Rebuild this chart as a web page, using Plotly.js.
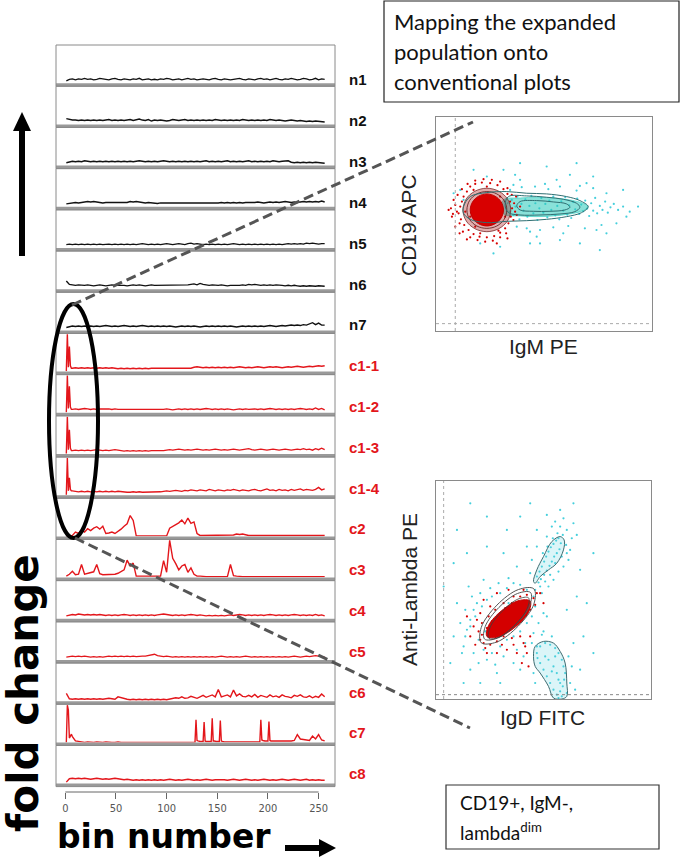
<!DOCTYPE html>
<html><head><meta charset="utf-8">
<script src="https://cdn.plot.ly/plotly-3.0.1.min.js"></script>
<style>html,body{margin:0;padding:0;background:#fff}#chart{width:681px;height:865px}</style>
</head><body><div id="chart"></div>
<script>
// ---------- DATA ----------
const bins = [1,4,7,10,13,16,19,22,25,28,31,34,37,40,43,46,49,52,55,58,61,64,67,70,73,76,79,82,85,88,
  91,94,97,100,103,106,109,112,115,118,121,124,127,130,133,136,139,142,145,148,151,154,157,160,163,166,169,172,175,178,
  181,184,187,190,193,196,199,202,205,208,211,214,217,220,223,226,229,232,235,238,241,244,247,250,253,256];
const binsHead = [1,2,3,4,5,6];
const c7Bins = [1,2,3,4,5,6,7,10,13,16,19,22,25,28,31,34,37,40,43,46,49,52,55,58,61,64,67,70,73,76,79,82,85,88,91,94,97,100,103,106,109,112,115,118,121,124,
  125,126,127,128,129,130,131,132,133,134,135,136,137,138,139,140,141,142,143,144,145,146,147,148,149,150,151,152,153,154,
  155,156,157,158,159,160,161,162,163,164,165,166,167,168,169,170,171,172,173,174,175,176,177,178,179,180,181,182,183,184,
  185,186,187,188,189,190,191,192,193,194,195,196,197,198,199,200,201,202,203,204,205,
  208,211,214,217,220,223,226,229,232,235,238,241,244,247,250,253,256];
const panelNames = ["n1","n2","n3","n4","n5","n6","n7","c1-1","c1-2","c1-3","c1-4","c2","c3","c4","c5","c6","c7","c8"];
const tickVals = [0,50,100,150,200,250];

const n1 = [0.8,1.1,1.2,1.0,1.2,1.1,1.3,1.1,1.2,1.0, 1.1,1.3,1.2,1.1,1.0,1.2,1.3,1.1,1.0,1.2, 1.1,1.0,1.2,1.1,1.3,1.0,1.1,1.2,1.0,1.1,
  1.0,1.2,1.1,1.3,1.2,1.0,1.1,1.2,1.0,1.1, 1.3,1.1,1.2,1.0,1.1,1.2,1.1,1.0,1.2,1.3, 1.1,1.0,1.2,1.1,1.0,1.1,1.2,1.3,1.1,1.0,
  1.2,1.1,1.0,1.2,1.3,1.1,1.2,1.0,1.1,1.3, 1.1,1.0,1.2,1.1,1.3,1.2,1.0,1.1,1.3,1.2, 1.0,1.1,1.3,1.0,1.2,1.1];
const n2 = [1.5,1.3,1.2,1.2,1.1,1.2,1.1,1.2,1.1,1.2, 1.1,1.2,1.1,1.2,1.3,1.1,1.2,1.1,1.2,1.1, 1.2,1.3,1.1,1.2,1.4,1.2,1.1,1.3,1.0,1.2,
  1.1,1.2,1.1,1.0,1.1,1.3,1.2,1.1,1.2,1.3, 1.1,1.2,1.1,1.2,1.1,1.2,1.1,1.2,1.1,1.3, 1.2,1.1,1.2,1.1,1.2,1.1,1.2,1.1,1.3,1.2,
  1.1,1.2,1.1,1.2,1.1,1.2,1.1,1.3,1.2,1.1, 1.2,1.1,1.0,1.1,1.2,1.1,1.0,1.1,1.0,0.9, 1.0,0.9,1.0,0.9,0.9,0.8];
const n3 = [0.9,1.1,1.2,1.1,1.2,1.1,1.3,1.2,1.1,1.2, 1.1,1.2,1.1,1.2,1.1,1.2,1.1,1.2,1.1,1.2, 1.1,1.2,1.1,1.2,1.3,1.2,1.1,1.2,1.1,1.2,
  1.1,1.2,1.3,1.2,1.1,1.2,1.1,1.2,1.1,1.2, 1.1,1.2,1.1,1.2,1.1,1.2,1.3,1.1,1.2,1.1, 1.2,1.1,1.2,1.3,1.1,1.2,1.1,1.2,1.1,1.2,
  1.3,1.1,1.2,1.1,1.2,1.1,1.2,1.1,1.3,1.2, 1.1,1.2,1.2,1.3,1.0,0.9,1.0,0.9,1.0,0.9, 1.0,0.9,1.0,0.9,0.9,0.8];
const n4 = [0.9,1.0,1.1,1.2,1.1,1.2,1.3,1.4,1.3,1.4, 1.3,1.2,1.1,1.2,1.2,1.1,1.2,1.1,1.2,1.1, 1.2,1.4,1.3,1.4,1.3,1.2,1.1,1.2,1.1,1.1,
  1.0,1.1,1.1,1.0,1.1,1.0,1.1,1.1,1.0,1.1, 1.0,1.1,1.0,1.1,1.0,1.1,1.1,1.0,1.1,1.0, 1.1,1.2,1.1,1.2,1.1,1.2,1.1,1.2,1.1,1.2,
  1.2,1.1,1.2,1.3,1.2,1.1,1.2,1.3,1.2,1.3, 1.2,1.3,1.4,1.3,1.2,1.3,1.2,1.3,1.4,1.3, 1.4,1.3,1.4,1.3,1.5,1.3];
const n5 = [1.0,1.1,1.0,1.1,1.0,1.1,1.0,1.1,1.0,1.1, 1.0,1.1,1.0,1.1,1.1,1.0,1.1,1.0,1.1,1.0, 1.1,1.0,1.1,1.0,1.1,1.2,1.1,1.0,1.1,1.0,
  1.1,1.0,1.1,1.2,1.1,1.0,1.1,1.2,1.1,1.0, 1.2,1.3,1.1,1.2,1.1,1.0,1.1,1.0,1.1,1.0, 1.1,1.0,1.1,1.0,1.1,1.2,1.1,1.0,1.1,1.0,
  1.1,1.0,1.1,1.0,1.1,1.0,1.1,1.0,1.1,1.0, 1.1,1.0,1.1,1.2,1.1,1.2,1.1,1.2,1.1,1.3, 1.2,1.3,1.2,1.1,1.2,1.2];
const n6 = [2.0,1.3,1.2,1.1,1.2,1.1,1.1,1.2,1.1,1.0, 1.1,1.2,1.1,1.0,1.1,1.2,1.1,1.1,1.2,1.1, 1.0,1.1,1.2,1.1,1.2,1.1,1.0,1.1,1.2,1.1,
  1.1,1.2,1.1,1.2,1.1,1.2,1.1,1.2,1.1,1.2, 1.2,1.3,1.4,1.2,1.5,1.3,1.2,1.1,1.2,1.1, 1.1,1.2,1.1,1.0,1.1,1.1,1.0,1.1,1.2,1.1,
  1.3,1.2,1.3,1.2,1.1,1.2,1.1,1.2,1.1,1.2, 1.2,1.1,1.0,1.1,1.0,1.1,1.0,0.9,1.0,0.9, 1.0,0.9,0.9,1.0,0.9,0.9];
const n7 = [0.9,1.1,1.2,1.1,1.2,1.1,1.2,1.1,1.2,1.1, 1.2,1.1,1.2,1.3,1.2,1.1,1.2,1.1,1.2,1.3, 1.2,1.1,1.2,1.1,1.2,1.3,1.2,1.1,1.2,1.1,
  1.2,1.1,1.2,1.1,1.2,1.1,1.0,1.1,1.2,1.1, 1.2,1.1,1.2,1.1,1.0,1.1,1.2,1.1,1.2,1.1, 1.2,1.1,1.2,1.1,1.2,1.1,1.0,1.1,1.2,1.1,
  1.2,1.1,1.2,1.1,1.2,1.1,1.2,1.3,1.2,1.1, 1.2,1.3,1.2,1.3,1.4,1.3,1.4,1.3,1.5,1.4, 1.6,1.9,1.5,1.8,1.4,1.4];

const c1_1Head = [0.4,8.0,1.2,5.5,1.5,1.0];
const c1_1Tail = [1.0,1.1,1.0,1.1,1.0,1.1,1.0,1.1,1.0,1.1, 1.0,1.1,1.0,1.1,1.0,0.9,1.0,0.9,1.0,0.9, 1.0,0.9,1.0,0.9,1.0,0.9,1.0,1.0,0.9,1.0,
  0.9,1.0,1.0,0.9,1.0,0.9,1.0,1.0,0.9,1.0, 1.2,1.3,1.2,1.1,1.2,1.1,1.2,1.1,1.2,1.1, 1.2,1.1,1.2,1.1,1.2,1.3,1.2,1.1,1.2,1.1,
  1.2,1.3,1.2,1.1,1.2,1.3,1.2,1.3,1.2,1.1, 1.2,1.3,1.2,1.3,1.4,1.3,1.2,1.3,1.4,1.3, 1.4,1.5,1.4,1.5];
const c1_2Head = [0.4,8.0,1.2,5.8,1.5,1.0];
const c1_2Tail = [1.0,1.1,1.0,1.1,1.2,1.1,1.0,1.1,1.0,1.1, 1.1,1.2,1.1,1.0,1.1,1.0,1.0,0.9,1.0,0.9, 1.0,0.9,1.0,1.0,0.9,1.0,0.9,1.0,1.0,0.9,
  1.0,1.1,1.0,0.9,1.0,1.1,1.0,1.1,1.0,1.1, 1.0,1.1,1.0,1.1,1.2,1.1,1.0,1.1,1.0,1.1, 1.0,1.1,1.0,0.9,1.0,1.1,1.0,1.1,1.0,1.1,
  1.1,1.0,1.1,1.0,1.1,1.2,1.1,1.0,1.1,1.0, 1.1,1.0,1.1,1.0,1.1,1.2,1.1,1.0,1.1,1.0, 1.3,1.0,1.2,0.9];
const c1_3Head = [0.4,8.0,1.2,5.3,1.5,1.0];
const c1_3Tail = [1.0,1.1,1.0,1.1,1.0,1.1,1.0,1.1,1.2,1.1, 1.0,1.1,1.0,1.1,1.2,1.1,1.0,0.9,1.0,0.9, 1.0,0.9,1.0,0.9,1.0,0.9,1.0,1.0,0.9,1.0,
  1.0,1.1,1.2,1.1,1.2,1.3,1.2,1.1,1.2,1.1, 1.2,1.3,1.2,1.1,1.2,1.1,1.2,1.3,1.2,1.1, 1.2,1.1,1.2,1.3,1.2,1.1,1.2,1.3,1.4,1.2,
  1.1,1.2,1.3,1.2,1.1,1.2,1.3,1.2,1.1,1.2, 1.3,1.2,1.1,1.2,1.3,1.2,1.4,1.2,1.3,1.1, 1.4,1.2,1.5,1.2];
const c1_4Head = [0.4,8.0,1.2,3.9,1.5,1.2];
const c1_4Tail = [1.2,1.1,1.0,1.1,1.0,1.1,1.0,1.1,1.0,1.1, 1.0,1.1,1.0,1.1,1.0,1.1,1.0,0.9,0.9,0.9, 1.0,0.9,1.0,0.9,0.9,1.0,0.9,1.0,0.9,1.0,
  1.1,1.2,1.1,1.2,1.3,1.2,1.1,1.3,1.2,1.4, 1.3,1.2,1.4,1.3,1.2,1.5,1.3,1.2,1.4,1.3, 1.2,1.4,1.3,1.5,1.3,1.2,1.4,1.3,1.2,1.4,
  1.5,1.3,1.2,1.4,1.6,1.3,1.4,1.2,1.5,1.3, 1.4,1.2,1.5,1.3,1.4,1.6,1.3,1.5,1.4,1.3, 1.5,1.9,1.4,1.6];

const c2 = [0.3,0.3,0.5,1.2,0.9,1.6,1.2,1.9,1.5,2.0, 2.3,1.8,2.4,0.9,1.0,1.2,0.9,1.3,1.8,2.4, 2.9,4.6,3.6,0.4,0.4,0.4,0.4,0.4,0.4,0.4,
  0.4,0.4,0.4,0.4,2.0,2.4,2.8,3.1,3.7,2.9, 4.1,3.0,3.3,0.9,0.5,0.5,0.5,0.5,0.5,0.5, 0.5,0.5,0.5,0.5,0.5,0.6,0.8,0.7,0.8,0.6,
  0.5,0.5,0.5,0.5,0.5,0.5,0.5,0.5,0.5,0.5, 0.5,0.5,0.5,0.5,0.5,0.5,0.5,0.5,0.5,0.5, 0.5,0.5,0.5,0.5,0.5,0.5];
const c3 = [0.6,1.0,1.6,0.9,1.0,3.0,1.0,1.2,1.3,1.5, 3.0,1.1,0.9,0.9,1.0,0.9,1.0,1.2,1.5,1.9, 3.9,2.7,3.3,0.6,0.6,0.6,0.6,0.6,0.6,0.6,
  0.6,0.6,3.8,1.4,8.0,4.3,3.2,1.9,2.7,3.0, 1.4,2.3,1.0,0.6,0.6,0.5,0.5,0.5,0.5,0.5, 0.5,0.5,0.5,0.5,3.0,0.7,0.6,0.5,0.5,0.5,
  0.5,0.5,0.5,0.5,0.5,0.5,0.5,0.5,0.5,0.5, 0.5,0.5,0.5,0.5,0.5,0.5,0.5,0.5,0.5,0.5, 0.5,0.5,0.5,0.5,0.5,0.5];
const c4 = [0.9,1.1,1.2,1.1,1.3,1.2,1.1,1.2,1.1,1.2, 1.1,1.2,1.1,1.0,1.1,1.0,1.1,1.0,1.1,1.2, 1.1,1.0,1.1,1.0,1.1,1.0,1.1,1.0,1.1,1.0,
  1.1,1.2,1.3,1.2,1.1,1.0,1.1,1.0,1.1,1.0, 1.1,1.2,1.1,1.0,1.1,1.0,0.9,1.0,0.9,1.0, 0.9,1.0,0.9,1.0,1.1,1.0,1.1,1.2,1.1,1.0,
  1.1,1.0,1.1,1.0,1.1,1.0,1.1,1.2,1.1,1.0, 1.1,1.0,1.1,1.0,1.1,1.2,1.1,1.0,1.1,1.0, 1.1,1.0,1.2,1.0,1.1,0.9];
const c5 = [0.9,1.0,1.1,1.0,1.1,1.0,1.1,1.0,0.9,1.0, 0.9,1.0,0.9,1.0,1.1,1.0,1.1,1.0,1.1,1.0, 1.1,1.0,1.1,1.0,1.1,1.1,1.1,1.2,1.3,1.5,
  1.2,1.1,1.0,1.1,1.0,0.9,1.0,0.9,1.0,0.9, 1.0,0.9,1.0,0.9,1.0,0.9,1.0,0.9,1.0,0.9, 1.0,1.1,1.0,0.9,1.0,0.9,1.0,0.9,1.0,1.1,
  1.0,0.9,1.0,0.9,1.0,0.9,1.0,0.9,1.0,0.9, 1.0,0.9,1.0,0.9,1.0,1.1,1.0,0.9,1.0,1.1, 1.0,1.1,1.2,1.1,1.0,0.9];
const c6 = [1.9,0.8,0.7,0.8,0.7,0.8,0.7,0.8,0.7,0.8, 0.7,0.8,0.7,0.8,0.9,0.8,0.7,1.2,1.0,0.9, 0.7,0.6,0.7,0.6,0.7,0.6,0.7,0.6,0.7,0.6,
  0.7,0.6,0.7,0.6,0.7,0.8,1.0,0.9,1.2,0.9, 1.0,1.3,1.1,0.9,1.2,1.5,1.1,1.3,1.6,1.2, 2.7,1.2,1.4,1.6,1.2,2.6,1.4,1.8,1.3,1.2,
  1.5,1.2,1.7,1.1,1.5,1.3,1.1,1.6,1.2,1.4, 1.1,1.6,1.3,1.2,1.0,1.5,1.3,1.6,1.2,1.1, 1.4,1.0,1.3,1.1,1.8,1.2];
const c7 = [0.3,8.0,7.0,1.2,1.6,2.0,
  1.5,0.6,0.5,0.4,0.3,0.4,0.3,0.3,0.4,0.3, 0.3,0.4,0.3,0.3,0.3,0.4,0.3,0.3,0.3,0.3, 0.3,0.3,0.4,0.3,0.3,0.3,0.3,0.3,0.3,0.3,
  0.3,0.3,0.3,0.3,0.3,0.3,0.3,0.3,0.3,0.3,
  0.3,0.3,0.3,0.3,5.0,0.7,0.6,0.5,0.5,0.5,0.5,0.5,4.5,0.6,0.5,0.5,0.5,0.5,0.5,0.5,5.3,0.6,0.6,0.5,0.5,0.5,0.5,0.5,4.8,0.6,
  0.5,0.4,0.4,0.4,0.4,0.4,0.4,0.4,0.4,0.4,0.4,0.4,0.4,0.4,0.4,0.4,0.4,0.4,0.4,0.4,0.4,0.4,0.4,0.4,0.4,0.4,0.4,0.4,0.4,0.4,
  0.4,0.4,0.4,0.4,0.4,0.4,0.4,0.4,5.0,0.8,0.7,0.6,0.6,0.6,0.6,0.6,4.6,0.7,0.6,0.6,0.6,
  0.5,0.6,0.5,0.6,0.5,0.6,0.7,1.9,1.0,0.9,0.7,0.7,1.6,1.0,1.9,0.8,0.6];
const c8 = [0.6,1.3,1.4,1.3,1.4,1.3,1.4,1.3,1.2,1.3, 1.4,1.3,1.2,1.3,1.2,1.3,1.4,1.3,1.2,1.1, 1.2,1.1,1.0,1.1,1.0,1.1,1.0,1.1,1.0,1.1,
  1.0,1.1,1.0,1.1,1.2,1.1,1.0,1.1,1.0,1.1, 1.2,1.1,1.0,1.1,1.0,1.1,1.2,1.1,1.0,1.1, 1.1,1.2,1.1,1.0,1.1,1.2,1.1,1.0,1.1,1.2,
  1.1,1.0,1.1,1.0,1.1,1.2,1.1,1.0,1.1,1.0, 1.1,1.2,1.1,1.0,1.1,1.2,1.1,1.0,1.1,1.2, 1.0,1.1,1.0,1.1,1.0,1.0];

// Flow plot 1: CD19 APC vs IgM PE  (x, y channel pairs)
const igmCyan = [[262,420],[268,395],[275,430],[280,385],[286,410],[292,440],[298,372],[304,418],[310,398],[316,432],[322,380],[328,412],[334,442],[340,390],[346,420],[352,370],[358,405],[364,436],[370,392],[376,418],[382,378],[388,428],[394,400],[400,440],[406,384],[412,412],[418,372],[424,426],[430,398],[436,438],[442,386],[448,414],[454,376],[460,424],[466,402],[472,434],[478,388],[484,416],[490,396],[496,428],[502,404],[508,382],[514,420],[520,398],[526,436],[532,390],[540,412],[548,400],[556,425],[564,392],[572,408],[582,418],[595,400],[610,410],[630,395],
  [270,460],[290,350],[305,468],[320,345],[345,470],[360,340],[385,462],[400,348],[420,470],[445,352],[470,458],[495,345],[520,465],[545,355],[280,475],[330,335],[375,478],[430,330],[480,472],[530,340],[560,450],[500,480],[410,490],[350,320],[300,490],
  [655,410],[610,460],[590,360],[250,520],[300,540],[420,310],[480,300],[330,300],[200,500],[160,520],[130,430],[120,460],[240,290],[380,530],[560,330],[620,380],[520,500],[450,505],[285,505],[360,300],[220,270],[180,300],[100,450],[540,280],[470,540]];
const igmCyanCore = [[250,430],[300,436],[350,438],[400,436],[450,430],[490,420],[505,410],[490,398],[450,388],[400,382],[350,380],[300,382],[250,388],[250,430]];
const igmRed = [[120,410],[110,395],[98,388],[130,440],[140,455],[150,470],[165,478],[185,482],[210,480],[232,474],[250,462],[262,448],[270,425],[276,405],[272,380],[265,360],[255,345],[240,332],[222,322],[200,318],[178,320],[160,328],[145,340],[132,355],[122,372],[115,390],[105,415],[125,425],[118,360],[128,335],[150,318],[172,310],[195,305],[218,308],[240,318],[258,330],[280,370],[285,395],[282,420],[275,445],[262,465],[240,485],[215,490],[190,492],[165,488],[142,478],[125,462],[112,445],[100,430],[92,405],[95,380],[105,350],[118,330],[140,312],[230,300],[262,315],[290,385],[288,440],[200,470],[180,330],[165,350],[150,380],[240,440],[255,380],[235,338],[160,460],[135,395],[300,410],[85,400],[245,410]];
const igmRedCore = [[250,400],[243,424],[225,441],[200,448],[175,441],[157,424],[150,400],[157,376],[175,359],[200,352],[225,359],[243,376],[250,400]];
const igmRedRing1 = [[260,400],[252,428],[230,448],[200,455],[170,448],[148,428],[140,400],[148,372],[170,352],[200,345],[230,352],[252,372],[260,400]];
const igmRedRing2 = [[272,400],[262,433],[236,456],[200,465],[164,456],[138,433],[128,400],[138,367],[164,344],[200,335],[236,344],[262,367],[272,400]];
const igmContOuter = [[130,410],[150,440],[200,452],[260,455],[320,450],[380,448],[440,440],[480,428],[505,410],[485,392],[440,380],[380,372],[320,368],[260,366],[200,362],[150,372],[130,390],[130,410]];
const igmContMid = [[265,440],[320,442],[380,438],[430,432],[470,420],[480,408],[465,395],[420,388],[360,385],[300,385],[265,392],[255,415],[265,440]];
const igmContInner = [[300,425],[350,428],[400,424],[440,418],[450,408],[435,400],[390,396],[340,396],[300,400],[290,412],[300,425]];

// Flow plot 2: Anti-Lambda PE vs IgD FITC
const igdCyan = [[350,380],[358,395],[365,410],[372,425],[378,440],[385,455],[392,468],[400,478],[408,488],[415,495],[422,480],[418,462],[410,450],[402,440],[395,425],[388,412],[380,398],[372,385],[362,372],[355,362],[368,450],[382,470],[398,495],[412,510],[428,505],[438,475],[440,450],[425,440],[405,420],[390,385],[375,365],[360,350],[345,340],[395,530],[420,530],[440,520],[455,495],[450,460],[445,430],[430,410],[415,395],[400,370],[385,350],[365,330],[350,470],[335,430],[380,500],[405,545],[430,555],[460,540],[470,505],[350,520],[320,470],[330,390],[420,580],[380,565],
  [170,300],[180,330],[150,250],[160,280],[140,220],[175,190],[190,160],[215,150],[240,170],[260,190],[280,200],[300,215],[320,240],[335,260],[345,290],[340,320],[320,340],[300,355],[280,360],[260,345],[240,330],[215,320],[200,310],[185,290],[165,260],[150,230],[135,200],[130,170],[160,150],[200,130],[250,140],[290,160],[315,180],[340,210],[355,240],[210,345],[235,360],[265,375],[155,320],[135,280],[120,240],[125,150],[175,120],[225,115],[280,120],[310,140],[350,170],[365,205],[370,270],[190,370],[145,350],[110,300],[100,200],[150,100],[230,90],[300,100],[265,300],[300,290],[225,230],[195,215],[250,215],[310,265],
  [350,150],[360,170],[375,180],[390,175],[405,165],[415,150],[425,130],[430,110],[435,90],[432,70],[428,50],[420,35],[410,25],[400,40],[390,60],[380,80],[370,100],[360,120],[352,135],[385,130],[400,110],[410,90],[415,70],[395,95],[375,140],[405,140],[420,60],[425,20],[415,15],[440,30],[445,140],[455,110],[450,60],[340,90],[335,180],[395,200],[370,215],[345,60],[460,180],[465,40],
  [100,420],[140,450],[200,470],[260,520],[300,560],[330,600],[460,600],[480,400],[500,300],[490,200],[480,100],[520,150],[90,120],[70,350],[110,520],[250,450],[290,410],[200,560],[150,600],[520,450],[380,260],[440,280],[470,320],[240,60],[180,60],[130,60]];
const igdRed = [[190,180],[185,205],[200,225],[215,245],[235,265],[255,285],[275,300],[300,320],[320,325],[340,315],[345,295],[330,280],[310,260],[290,240],[270,220],[250,200],[230,185],[210,175],[195,165],[180,190],[175,215],[205,260],[225,280],[250,300],[280,320],[320,300],[300,280],[260,240],[240,225],[220,210],[350,330],[185,240],[210,290],[310,340],[245,175],[275,195],
  [300,200],[310,180],[320,150],[305,120],[325,110],[315,170],[290,150],[330,200],[280,175],[180,270],[170,250],[160,230],[190,310],[150,200],[165,175],[200,150],[230,150],[260,160],[140,260],[370,300],[360,330],[230,330],[265,340]];
const igdRedCore = [[330,306],[297,308],[245,278],[205,233],[200,200],[233,198],[285,228],[325,273],[330,306]];
const igdContA = [[341,343],[295,341],[230,294],[183,227],[183,181],[229,183],[294,231],[341,297],[341,343]];
const igdContB = [[331,332],[292,329],[236,287],[195,230],[193,192],[232,195],[288,237],[329,294],[331,332]];
const igdContC = [[325,316],[293,312],[245,275],[209,226],[206,194],[237,198],[285,235],[321,284],[325,316]];
const igdContUpper = [[340,365],[350,400],[370,440],[395,485],[420,500],[432,490],[430,460],[410,420],[385,400],[360,380],[345,360],[340,365]];
const igdContLower = [[340,140],[345,170],[370,185],[400,180],[420,155],[435,120],[440,60],[440,20],[425,12],[400,15],[385,50],[360,90],[345,110],[340,140]];

// ---------- BUILD ----------
const W = 681, H = 865;
const px = x => x / W, py = y => 1 - y / H;
const binsSpike = binsHead.concat(bins.slice(2));
const series = [
  [bins,n1],[bins,n2],[bins,n3],[bins,n4],[bins,n5],[bins,n6],[bins,n7],
  [binsSpike,c1_1Head.concat(c1_1Tail)],[binsSpike,c1_2Head.concat(c1_2Tail)],
  [binsSpike,c1_3Head.concat(c1_3Tail)],[binsSpike,c1_4Head.concat(c1_4Tail)],
  [bins,c2],[bins,c3],[bins,c4],[bins,c5],[bins,c6],[c7Bins,c7],[bins,c8]
];
const RED = '#e3161b', BLK = '#111111';
const traces = [], shapes = [], annotations = [];
const layout = {
  width: W, height: H, margin: {l:0, r:0, t:0, b:0}, showlegend: false,
  paper_bgcolor: '#ffffff', plot_bgcolor: 'rgba(0,0,0,0)',
  xaxis: {domain: [px(56), px(335)], range: [-9.2, 266.2], anchor: 'free', position: py(792),
    showline: false, showgrid: false, zeroline: false, ticks: 'outside', ticklen: 6, tickwidth: 1, tickcolor: '#666',
    tickvals: tickVals, ticktext: tickVals.map(String),
    tickfont: {family: 'DejaVu Sans Condensed, Liberation Sans Narrow, sans-serif', size: 11, color: '#555'}},
  shapes, annotations
};
const T0 = 45, PH = 41.2;
series.forEach((s, i) => {
  const T = T0 + PH * i, B = T + PH;
  const yk = i === 0 ? 'yaxis' : 'yaxis' + (i + 1);
  const yr = i === 0 ? 'y' : 'y' + (i + 1);
  layout[yk] = {domain: [py(B - 3), py(T)], range: [0.3, 8.2], anchor: 'x', visible: false, showgrid: false, zeroline: false};
  const isC = i >= 7;
  traces.push({x: s[0], y: s[1], xaxis: 'x', yaxis: yr, mode: 'lines', hoverinfo: 'skip',
    line: {color: isC ? RED : BLK, width: 1.4}});
  shapes.push({type: 'rect', xref: 'paper', yref: 'paper', x0: px(56), x1: px(335), y0: py(B - 3), y1: py(B),
    fillcolor: '#9a9a9a', line: {width: 0}});
  shapes.push({type: 'rect', xref: 'paper', yref: 'paper', x0: px(56), x1: px(335), y0: py(B), y1: py(T),
    fillcolor: 'rgba(0,0,0,0)', line: {color: '#8a8a8a', width: 1}});
  annotations.push({xref: 'paper', yref: 'paper', x: px(347), y: py(80 + 40.8 * i), xanchor: 'left', yanchor: 'middle',
    text: '<b>' + panelNames[i] + '</b>', showarrow: false,
    font: {family: 'Liberation Sans, Arial, sans-serif', size: 15, color: isC ? '#e3161b' : '#111'}});
});
// x-axis line from 0 to 250 (R style)
shapes.push({type: 'line', xref: 'x', yref: 'paper', x0: tickVals[0], x1: tickVals[tickVals.length - 1], y0: py(792), y1: py(792),
  line: {color: '#666', width: 1}});

// flow plot axes
const boxAx = {showline: true, mirror: true, linecolor: '#8a8a8a', linewidth: 1, showticklabels: false, ticks: '', showgrid: false, zeroline: false};
layout.xaxis2 = Object.assign({domain: [px(436), px(652)], range: [47, 697], anchor: 'y19'}, boxAx);
layout.yaxis19 = Object.assign({domain: [py(331), py(117)], range: [38, 678], anchor: 'x2'}, boxAx);
layout.xaxis3 = Object.assign({domain: [px(436), px(651)], range: [47, 693], anchor: 'y20'}, boxAx);
layout.yaxis20 = Object.assign({domain: [py(699), py(481)], range: [12, 667], anchor: 'x3'}, boxAx);

const xs = a => a.map(p => p[0]), ys = a => a.map(p => p[1]);
function pts(arr, xa, ya, color, size) {
  traces.push({x: xs(arr), y: ys(arr), xaxis: xa, yaxis: ya, mode: 'markers', hoverinfo: 'skip',
    marker: {color: color, size: size, line: {width: 0}}});
}
function poly(arr, xa, ya, fill, lineColor, lw) {
  traces.push({x: xs(arr), y: ys(arr), xaxis: xa, yaxis: ya, mode: 'lines', hoverinfo: 'skip',
    fill: fill ? 'toself' : 'none', fillcolor: fill || undefined,
    line: {color: lineColor, width: lw, shape: 'spline', smoothing: 1}});
}
// plot 1
pts(igmCyan, 'x2', 'y19', '#45cfdc', 2.2);
poly(igmCyanCore, 'x2', 'y19', 'rgba(40,200,185,0.55)', 'rgba(40,200,185,0.55)', 1);
pts(igmRed, 'x2', 'y19', '#d60000', 2.2);
poly(igmRedRing2, 'x2', 'y19', 'rgba(170,20,20,0.35)', 'rgba(110,20,20,0.7)', 1);
poly(igmRedCore, 'x2', 'y19', '#d80000', '#c00000', 1);
poly(igmRedRing1, 'x2', 'y19', null, 'rgba(90,20,20,0.8)', 1);
poly(igmContOuter, 'x2', 'y19', null, '#2f6f72', 1);
poly(igmContMid, 'x2', 'y19', null, '#2f6f72', 1);
poly(igmContInner, 'x2', 'y19', null, '#2f6f72', 1);
// plot 2
pts(igdCyan, 'x3', 'y20', '#45cfdc', 2.2);
poly(igdContUpper, 'x3', 'y20', 'rgba(90,210,225,0.22)', '#3d6b70', 1);
poly(igdContLower, 'x3', 'y20', 'rgba(90,210,225,0.22)', '#3d6b70', 1);
pts(igdRed, 'x3', 'y20', '#d60000', 2.2);
poly(igdRedCore, 'x3', 'y20', '#d40000', '#c00000', 1);
poly(igdContA, 'x3', 'y20', null, '#555', 1);
poly(igdContB, 'x3', 'y20', null, '#555', 1);
poly(igdContC, 'x3', 'y20', null, 'rgba(60,60,60,0.8)', 1);

// gate lines inside flow plots
shapes.push({type: 'line', xref: 'x2', yref: 'y19', x0: 105, x1: 105, y0: 38, y1: 678, line: {color: '#aaa', width: 1, dash: 'dot'}});
shapes.push({type: 'line', xref: 'x2', yref: 'y19', x0: 47, x1: 697, y0: 60, y1: 60, line: {color: '#aaa', width: 1, dash: 'dot'}});
shapes.push({type: 'line', xref: 'x3', yref: 'y20', x0: 70, x1: 70, y0: 12, y1: 667, line: {color: '#aaa', width: 1, dash: 'dot'}});
shapes.push({type: 'line', xref: 'x3', yref: 'y20', x0: 47, x1: 693, y0: 25, y1: 25, line: {color: '#888', width: 1, dash: 'dot'}});

// ellipse + connector dashed lines
shapes.push({type: 'circle', xref: 'paper', yref: 'paper', x0: px(49), x1: px(98), y0: py(538), y1: py(304),
  line: {color: '#000', width: 4}});
shapes.push({type: 'line', xref: 'paper', yref: 'paper', x0: px(72), y0: py(305), x1: px(473), y1: py(122),
  line: {color: '#555', width: 3, dash: '10px,5px'}});
shapes.push({type: 'line', xref: 'paper', yref: 'paper', x0: px(75), y0: py(538), x1: px(470), y1: py(728),
  line: {color: '#555', width: 3, dash: '10px,5px'}});

// arrows
shapes.push({type: 'line', xref: 'paper', yref: 'paper', x0: px(22), x1: px(22), y0: py(256), y1: py(128), line: {color: '#000', width: 6}});
shapes.push({type: 'path', xref: 'paper', yref: 'paper', fillcolor: '#000', line: {width: 0},
  path: `M ${px(13)} ${py(131)} L ${px(31)} ${py(131)} L ${px(22)} ${py(112)} Z`});
shapes.push({type: 'line', xref: 'paper', yref: 'paper', x0: px(285), x1: px(322), y0: py(848), y1: py(848), line: {color: '#000', width: 6}});
shapes.push({type: 'path', xref: 'paper', yref: 'paper', fillcolor: '#000', line: {width: 0},
  path: `M ${px(319)} ${py(839)} L ${px(319)} ${py(857)} L ${px(336)} ${py(848)} Z`});

// text boxes
shapes.push({type: 'rect', xref: 'paper', yref: 'paper', x0: px(384), x1: px(679), y0: py(102), y1: py(1), line: {color: '#222', width: 1.2}});
shapes.push({type: 'rect', xref: 'paper', yref: 'paper', x0: px(446), x1: px(659), y0: py(849), y1: py(785), line: {color: '#333', width: 1.2}});

function txt(text, x, y, opts) {
  annotations.push(Object.assign({xref: 'paper', yref: 'paper', x: px(x), y: py(y), text: text, showarrow: false,
    xanchor: 'center', yanchor: 'middle'}, opts));
}
const boxFont = {family: 'Lato, Open Sans, sans-serif', size: 22, color: '#111'};
txt('Mapping the expanded', 392, 22, {xanchor: 'left', font: boxFont});
txt('population onto', 392, 52, {xanchor: 'left', font: boxFont});
txt('conventional plots', 392, 81, {xanchor: 'left', font: boxFont});
const box2Font = {family: 'Lato, Open Sans, sans-serif', size: 19, color: '#111'};
txt('CD19+, IgM-,', 458, 802, {xanchor: 'left', font: box2Font});
txt('lambda<sup>dim</sup>', 458, 831, {xanchor: 'left', font: box2Font});

const axFont = {family: 'Liberation Sans, Arial, sans-serif', size: 21, color: '#222'};
txt('CD19 APC', 409, 225, {textangle: -90, font: axFont});
txt('IgM PE', 543, 346, {font: axFont});
txt('Anti-Lambda PE', 409, 590, {textangle: -90, font: axFont});
txt('IgD FITC', 542, 717, {font: axFont});

txt('<b>bin number</b>', 55, 836, {xanchor: 'left', font: {family: 'DejaVu Sans, sans-serif', size: 33, color: '#000'}});
txt('<b>fold change</b>', 23, 693, {textangle: -90, font: {family: 'DejaVu Sans, sans-serif', size: 42, color: '#000'}});

Plotly.newPlot('chart', traces, layout, {staticPlot: true, displayModeBar: false});
</script></body></html>
